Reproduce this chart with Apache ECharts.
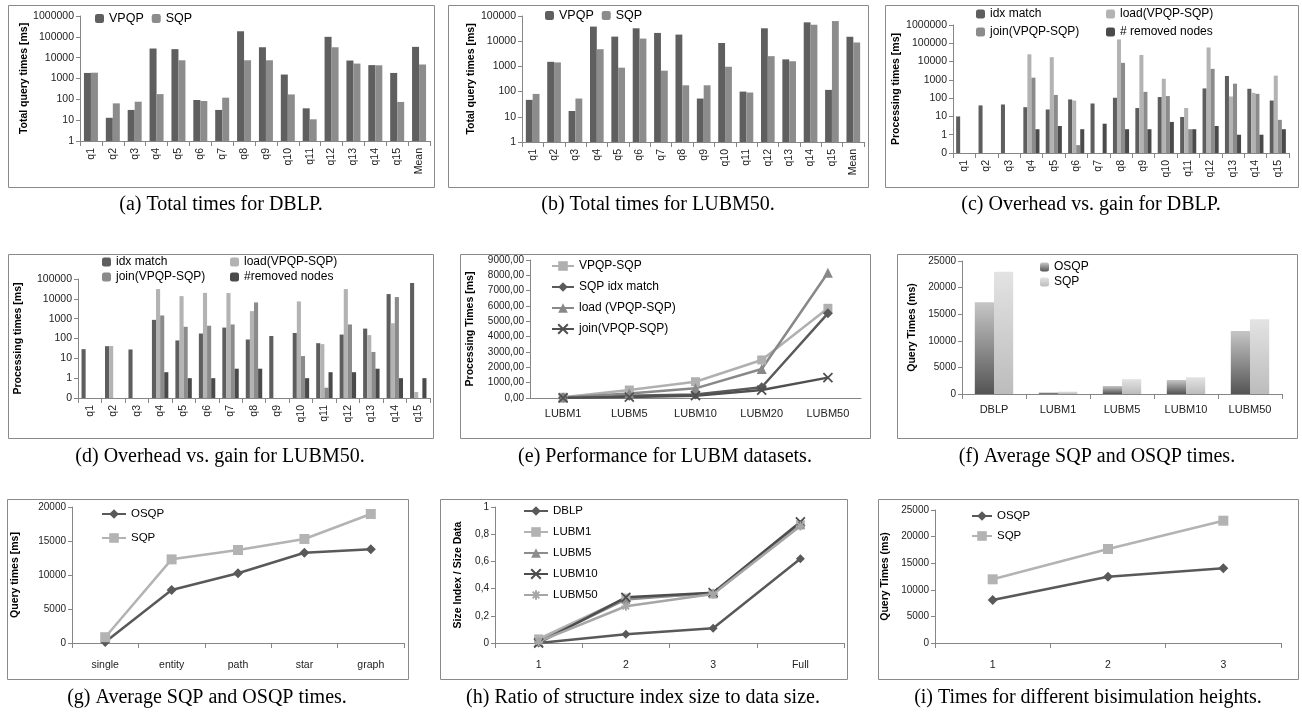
<!DOCTYPE html>
<html>
<head>
<meta charset="utf-8">
<title>Structure index query processing</title>
<script src="https://cdn.jsdelivr.net/npm/echarts@6/dist/echarts.min.js"></script>
<style>
  html, body { margin: 0; padding: 0; background: #fff; }
  #chart { width: 1302px; height: 713px; }
</style>
</head>
<body>
<div id="chart"></div>
<script>
// ---- data ----
const queries = ['q1', 'q2', 'q3', 'q4', 'q5', 'q6', 'q7', 'q8', 'q9', 'q10', 'q11', 'q12', 'q13', 'q14', 'q15']
const queriesMean = queries.concat(['Mean'])

// (a) total times DBLP
const dblpVPQP = [1850, 13, 31, 27500, 25700, 93, 31, 185000, 31600, 1550, 37, 100000, 7300, 4400, 1850, 33000]
const dblpSQP = [1900, 64, 77, 178, 7500, 83, 120, 7500, 7500, 172, 11, 31600, 5200, 4300, 75, 4700]
// (b) total times LUBM50
const lubmVPQP = [47, 1520, 17, 38000, 15200, 32500, 21300, 18300, 53, 8500, 100, 32500, 1900, 56000, 117, 15000]
const lubmSQP = [81, 1440, 53, 4800, 890, 12700, 675, 178, 178, 970, 92, 2550, 1600, 45000, 63000, 8900]

// (c) overhead vs gain DBLP
const dblpIdx = [10, 40, 45, 32, 24, 85, 51, 105, 29, 115, 9.3, 340, 1620, 325, 74]
const dblpLoad = [null, null, null, 25000, 17400, 74, null, 163000, 23000, 1150, 29, 59000, 123, 195, 1700]
const dblpJoin = [null, null, null, 1320, 150, 0.27, null, 8500, 220, 130, 2, 4000, 620, 172, 6.5]
const dblpRemoved = [null, null, null, 2, 3, 2, 4, 2, 2, 5, 2, 3, 1, 1, 2]

// (d) overhead vs gain LUBM50
const lubmIdx = [29, 41, 28, 870, 80, 178, 355, 89, 134, 190, 58, 158, 316, 17400, 63000]
const lubmLoad = [null, 42, null, 31000, 13700, 20000, 19600, 2400, null, 7400, 52, 31000, 148, 590, 0.2]
const lubmJoin = [null, null, null, 1450, 390, 440, 510, 6600, null, 13, 0.33, 510, 21, 12300, null]
const lubmRemoved = [null, null, null, 2, 1, 1, 3, 3, null, 1, 2, 2, 3, 1, 1]

// (e) LUBM datasets
const lubmSets = ['LUBM1', 'LUBM5', 'LUBM10', 'LUBM20', 'LUBM50']
const perfVpqpSqp = [50, 520, 1060, 2480, 5850]
const perfIdx = [20, 150, 230, 700, 5520]
const perfLoad = [30, 300, 630, 1890, 8170]
const perfJoin = [10, 60, 150, 520, 1330]

// (f) average times per dataset
const datasets = ['DBLP', 'LUBM1', 'LUBM5', 'LUBM10', 'LUBM50']
const avgOSQP = [17250, 300, 1500, 2630, 11850]
const avgSQP = [23000, 450, 2800, 3150, 14050]

// (g) average times per query type
const queryTypes = ['single', 'entity', 'path', 'star', 'graph']
const typeOSQP = [150, 7800, 10250, 13280, 13780]
const typeSQP = [850, 12300, 13680, 15300, 18970]

// (h) index size ratio
const heights = ['1', '2', '3', 'Full']
const ratioDBLP = [0, 0.064, 0.108, 0.62]
const ratioLUBM1 = [0.03, 0.33, 0.36, 0.87]
const ratioLUBM5 = [0.01, 0.32, 0.37, 0.87]
const ratioLUBM10 = [0, 0.336, 0.37, 0.89]
const ratioLUBM50 = [0.01, 0.27, 0.36, 0.86]

// (i) bisimulation heights
const bisimHeights = ['1', '2', '3']
const bisimOSQP = [8080, 12460, 14040]
const bisimSQP = [11970, 17670, 22990]

const captions = [
  '(a) Total times for DBLP.', '(b) Total times for LUBM50.', '(c) Overhead vs. gain for DBLP.',
  '(d) Overhead vs. gain for LUBM50.', '(e) Performance for LUBM datasets.', '(f) Average SQP and OSQP times.',
  '(g) Average SQP and OSQP times.', '(h) Ratio of structure index size to data size.', '(i) Times for different bisimulation heights.',
]

// ---- layout ----
const FONT = '"Liberation Sans", Arial, sans-serif'
const AXIS = '#868686'
const grids = [
  { left: 80, top: 16, width: 350, height: 125 },
  { left: 522, top: 16, width: 342, height: 126 },
  { left: 953, top: 25, width: 336, height: 128 },
  { left: 78, top: 279, width: 352, height: 119 },
  { left: 530, top: 260, width: 331, height: 138 },
  { left: 962, top: 261, width: 320, height: 133 },
  { left: 72, top: 507, width: 332, height: 136 },
  { left: 495, top: 507, width: 349, height: 136 },
  { left: 935, top: 510, width: 346, height: 133 },
]
const boxes = [
  [8, 5, 426, 182], [448, 5, 420, 182], [885, 5, 413, 182],
  [8, 254, 425, 184], [460, 254, 410, 184], [897, 254, 400, 184],
  [7, 499, 401, 180], [440, 499, 407, 180], [878, 499, 420, 180],
]
const captionPos = [[221, 205], [658, 205], [1091, 205], [220, 457], [665, 457], [1097, 457], [207, 698], [643, 698], [1088, 698]]

const label = name => name.split('@')[0]
const logFmt = v => (v < 1 ? '0' : String(Math.round(v)))
const plainFmt = v => String(v)

function catAxis(gi, data, opts = {}) {
  return {
    type: 'category', gridIndex: gi, data,
    boundaryGap: true,
    axisLine: { show: true, lineStyle: { color: AXIS } },
    axisTick: { show: opts.ticks !== false, length: 5, interval: 0, lineStyle: { color: AXIS } },
    axisLabel: {
      interval: 0, rotate: opts.rotate || 0, margin: opts.margin || 7,
      fontFamily: FONT, fontSize: opts.fontSize || 10.5, color: '#222',
    },
  }
}

function valAxis(gi, opts) {
  return {
    type: opts.log ? 'log' : 'value', gridIndex: gi, logBase: 10,
    min: opts.min, max: opts.max, interval: opts.interval, startValue: opts.startValue,
    name: opts.name, nameLocation: 'middle', nameRotate: 90, nameGap: opts.nameGap,
    nameTextStyle: { fontFamily: FONT, fontWeight: 'bold', fontSize: 10.5, color: '#000' },
    axisLine: { show: true, lineStyle: { color: AXIS } },
    axisTick: { show: true, length: 4, lineStyle: { color: AXIS } },
    splitLine: { show: false },
    axisLabel: { formatter: opts.formatter || plainFmt, margin: 6, fontFamily: FONT, fontSize: opts.fontSize || 10.5, color: '#222' },
  }
}

function bar(name, data, color, gi, gap) {
  return {
    type: 'bar', name, data, xAxisIndex: gi, yAxisIndex: gi,
    itemStyle: { color }, barGap: '0%', barCategoryGap: gap,
  }
}

const X_PATH = 'path://M0,0L10,10M10,0L0,10'
const STAR_PATH = 'path://M5,0L5,10M0,5L10,5M1.5,1.5L8.5,8.5M8.5,1.5L1.5,8.5'

function line(name, data, color, symbol, gi, size) {
  const stroked = symbol.indexOf('path://') === 0
  return {
    type: 'line', name, data, xAxisIndex: gi, yAxisIndex: gi,
    symbol, symbolSize: size || 8, showSymbol: true,
    lineStyle: { width: 2.5, color },
    itemStyle: { color, borderColor: color, borderWidth: stroked ? 1.8 : 0 },
    color,
  }
}

function legend(names, left, top, opts = {}) {
  return Object.assign({
    data: names, left, top, orient: 'vertical', padding: 0,
    itemWidth: 9, itemHeight: 9, itemGap: 8, selectedMode: false,
    formatter: label,
    textStyle: { fontFamily: FONT, fontSize: 12, color: '#000' },
  }, opts)
}

const osqpGrad = new echarts.graphic.LinearGradient(0, 0, 0, 1, [
  { offset: 0, color: '#c6c6c6' }, { offset: 1, color: '#545454' },
])
const sqpGrad = new echarts.graphic.LinearGradient(0, 0, 0, 1, [
  { offset: 0, color: '#e3e3e3' }, { offset: 1, color: '#bcbcbc' },
])

const C_IDX = '#5e5e5e', C_LOAD = '#b3b3b3', C_JOIN = '#8b8b8b', C_REM = '#4a4a4a'
const lineLegendText = { fontFamily: FONT, fontSize: 11.5, color: '#000' }

const option = {
  animation: false,
  backgroundColor: '#fff',
  grid: grids.map(g => Object.assign({ containLabel: false }, g)),
  xAxis: [
    catAxis(0, queriesMean, { rotate: 90 }),
    catAxis(1, queriesMean, { rotate: 90 }),
    catAxis(2, queries, { rotate: 90 }),
    catAxis(3, queries, { rotate: 90 }),
    catAxis(4, lubmSets, { ticks: false, margin: 10, fontSize: 11 }),
    catAxis(5, datasets, { margin: 10, fontSize: 11 }),
    catAxis(6, queryTypes, { margin: 17, fontSize: 10.5 }),
    catAxis(7, heights, { margin: 17, fontSize: 10.5 }),
    catAxis(8, bisimHeights, { margin: 17, fontSize: 10.5 }),
  ],
  yAxis: [
    valAxis(0, { log: true, min: 1, max: 1000000, formatter: logFmt, name: 'Total query times [ms]', nameGap: 43 }),
    valAxis(1, { log: true, min: 1, max: 100000, formatter: logFmt, name: 'Total query times [ms]', nameGap: 45 }),
    valAxis(2, { log: true, min: 0.1, max: 1000000, startValue: 0.1, formatter: logFmt, name: 'Processing times [ms]', nameGap: 51 }),
    valAxis(3, { log: true, min: 0.1, max: 100000, startValue: 0.1, formatter: logFmt, name: 'Processing times [ms]', nameGap: 54 }),
    valAxis(4, { min: 0, max: 9000, interval: 1000, fontSize: 10,
      formatter: v => v.toFixed(2).replace('.', ','), name: 'Processing Times [ms]', nameGap: 54 }),
    valAxis(5, { min: 0, max: 25000, interval: 5000, fontSize: 10, name: 'Query Times (ms)', nameGap: 44 }),
    valAxis(6, { min: 0, max: 20000, interval: 5000, fontSize: 10, name: 'Query times [ms]', nameGap: 51 }),
    valAxis(7, { min: 0, max: 1, interval: 0.2, fontSize: 10,
      formatter: v => String(Math.round(v * 10) / 10).replace('.', ','), name: 'Size Index / Size Data', nameGap: 31 }),
    valAxis(8, { min: 0, max: 25000, interval: 5000, fontSize: 10, name: 'Query Times (ms)', nameGap: 44 }),
  ],
  legend: [
    legend(['VPQP@a', 'SQP@a'], 95, 12, { orient: 'horizontal', itemGap: 8, textStyle: { fontFamily: FONT, fontSize: 12.5, color: '#000' } }),
    legend(['VPQP@b', 'SQP@b'], 545, 9, { orient: 'horizontal', itemGap: 8, textStyle: { fontFamily: FONT, fontSize: 12.5, color: '#000' } }),
    legend(['idx match@c'], 976, 8),
    legend(['load(VPQP-SQP)@c'], 1106, 8),
    legend(['join(VPQP-SQP)@c'], 976, 26),
    legend(['# removed nodes@c'], 1106, 26),
    legend(['idx match@d'], 102, 256),
    legend(['load(VPQP-SQP)@d'], 230, 256),
    legend(['join(VPQP-SQP)@d'], 102, 271),
    legend(['#removed nodes@d'], 230, 271),
    legend(['VPQP-SQP@e', 'SQP idx match@e', 'load (VPQP-SQP)@e', 'join(VPQP-SQP)@e'], 551, 260,
      { itemWidth: 22, itemHeight: 12, itemGap: 9, textStyle: { fontFamily: FONT, fontSize: 12, color: '#000' } }),
    legend(['OSQP@f', 'SQP@f'], 1040, 261, { itemGap: 3 }),
    legend(['OSQP@g', 'SQP@g'], 101, 508, { itemWidth: 24, itemHeight: 12, itemGap: 12, textStyle: lineLegendText }),
    legend(['DBLP@h', 'LUBM1@h', 'LUBM5@h', 'LUBM10@h', 'LUBM50@h'], 523, 505,
      { itemWidth: 24, itemHeight: 12, itemGap: 9, textStyle: lineLegendText }),
    legend(['OSQP@i', 'SQP@i'], 971, 510, { itemWidth: 20, itemHeight: 12, itemGap: 8, textStyle: lineLegendText }),
  ],
  series: [
    bar('VPQP@a', dblpVPQP, '#5f5f5f', 0, '36%'),
    bar('SQP@a', dblpSQP, '#8c8c8c', 0, '36%'),
    bar('VPQP@b', lubmVPQP, '#5f5f5f', 1, '36%'),
    bar('SQP@b', lubmSQP, '#8c8c8c', 1, '36%'),

    bar('idx match@c', dblpIdx, C_IDX, 2, '28%'),
    bar('load(VPQP-SQP)@c', dblpLoad, C_LOAD, 2, '28%'),
    bar('join(VPQP-SQP)@c', dblpJoin, C_JOIN, 2, '28%'),
    bar('# removed nodes@c', dblpRemoved, C_REM, 2, '28%'),

    bar('idx match@d', lubmIdx, C_IDX, 3, '30%'),
    bar('load(VPQP-SQP)@d', lubmLoad, C_LOAD, 3, '30%'),
    bar('join(VPQP-SQP)@d', lubmJoin, C_JOIN, 3, '30%'),
    bar('#removed nodes@d', lubmRemoved, C_REM, 3, '30%'),

    line('VPQP-SQP@e', perfVpqpSqp, '#b0b0b0', 'rect', 4, 9),
    line('SQP idx match@e', perfIdx, '#5a5a5a', 'diamond', 4, 10),
    line('load (VPQP-SQP)@e', perfLoad, '#888888', 'triangle', 4, 10),
    line('join(VPQP-SQP)@e', perfJoin, '#505050', X_PATH, 4, 9),

    bar('OSQP@f', avgOSQP, osqpGrad, 5, '40%'),
    bar('SQP@f', avgSQP, sqpGrad, 5, '40%'),

    line('OSQP@g', typeOSQP, '#595959', 'diamond', 6, 10),
    line('SQP@g', typeSQP, '#b3b3b3', 'rect', 6, 10),

    line('DBLP@h', ratioDBLP, '#595959', 'diamond', 7, 9),
    line('LUBM1@h', ratioLUBM1, '#b3b3b3', 'rect', 7, 9),
    line('LUBM5@h', ratioLUBM5, '#8c8c8c', 'triangle', 7, 9),
    line('LUBM10@h', ratioLUBM10, '#4d4d4d', X_PATH, 7, 9),
    line('LUBM50@h', ratioLUBM50, '#a6a6a6', STAR_PATH, 7, 9),

    line('OSQP@i', bisimOSQP, '#595959', 'diamond', 8, 10),
    line('SQP@i', bisimSQP, '#b3b3b3', 'rect', 8, 10),
  ],
  graphic: boxes.map(b => ({
    type: 'rect', silent: true, z: -1,
    shape: { x: b[0] + 0.5, y: b[1] + 0.5, width: b[2], height: b[3] },
    style: { fill: null, stroke: '#8a8a8a', lineWidth: 1 },
  })).concat(captions.map((t, i) => ({
    type: 'text', silent: true,
    x: captionPos[i][0], y: captionPos[i][1],
    style: {
      text: t, fill: '#000', align: 'center', verticalAlign: 'middle',
      font: '20px "Liberation Serif", "Times New Roman", serif',
    },
  }))),
}

const chart = echarts.init(document.getElementById('chart'), null, { renderer: 'canvas' })
chart.setOption(option)
window.addEventListener('resize', () => chart.resize())
</script>
</body>
</html>
